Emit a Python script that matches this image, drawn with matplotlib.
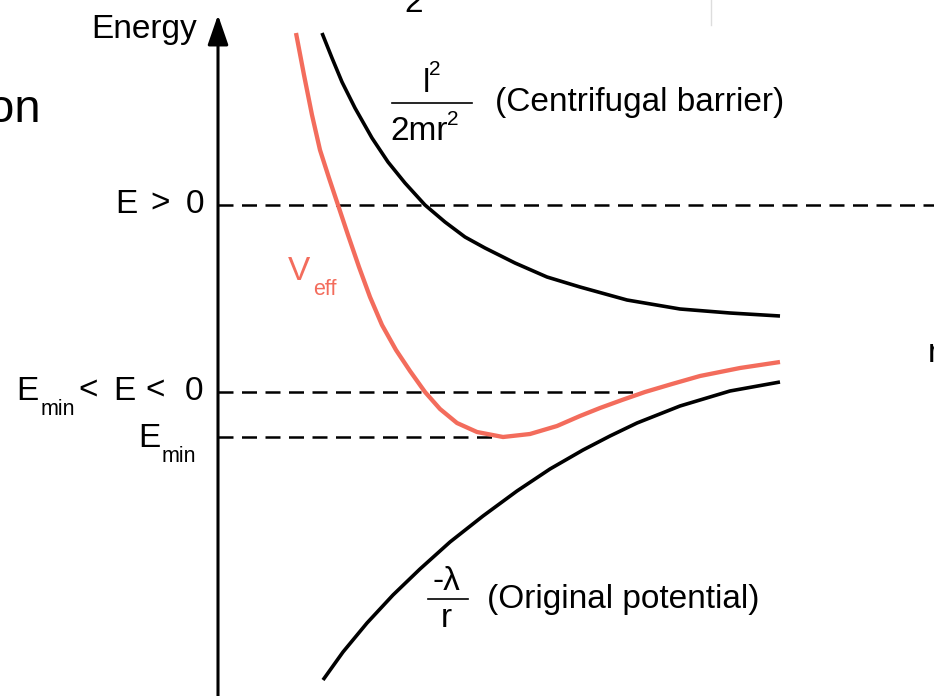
import matplotlib
matplotlib.use("Agg")
import matplotlib.pyplot as plt

plt.rcParams['font.family'] = ['Liberation Sans', 'DejaVu Sans']

# curves (r, energy); axes cross at (0, 0)
r_barrier = [1.04, 1.14, 1.24, 1.37, 1.54, 1.70, 1.87, 2.07, 2.27, 2.47, 2.67, 2.97,
             3.29, 3.62, 4.09, 4.62, 5.12, 5.62]
e_barrier = [2.92, 2.67, 2.43, 2.17, 1.87, 1.63, 1.42, 1.20, 1.03, 0.88, 0.77, 0.62,
             0.48, 0.38, 0.25, 0.16, 0.12, 0.09]

r_veff = [0.78, 0.86, 0.94, 1.02, 1.11, 1.20, 1.30, 1.41, 1.52, 1.64, 1.78, 1.92, 2.07,
          2.22, 2.39, 2.59, 2.85, 3.12, 3.39, 3.62, 3.82, 4.04, 4.27, 4.54, 4.82, 5.22, 5.62]
e_veff = [2.92, 2.50, 2.10, 1.75, 1.47, 1.20, 0.90, 0.58, 0.28, 0.00, -0.25, -0.46, -0.67,
          -0.84, -0.98, -1.07, -1.12, -1.09, -1.01, -0.91, -0.83, -0.75, -0.67, -0.59,
          -0.51, -0.43, -0.37]

r_orig = [1.05, 1.25, 1.49, 1.75, 2.02, 2.32, 2.65, 2.99, 3.32, 3.65, 3.92, 4.19,
          4.62, 5.12, 5.62]
e_orig = [-3.55, -3.27, -2.98, -2.70, -2.44, -2.17, -1.91, -1.66, -1.44, -1.25, -1.11,
          -0.98, -0.81, -0.66, -0.57]

# energy levels (dashed) and where each one stops
level_e = [1.20, -0.67, -1.12]
level_end = [7.20, 4.22, 2.75]

red = '#f36c5c'
fs = 24
fs_small = 15.5
fs_sup = 15

fig = plt.figure(figsize=(9.34, 6.96), dpi=100)
ax = fig.add_axes([0, 0, 1, 1])
ax.set_xlim(-2.18, 7.16)
ax.set_ylim(-3.71, 3.25)
ax.axis('off')

# dashed energy levels
for e, end in zip(level_e, level_end):
    ax.plot([0, end], [e, e], color='black', lw=1.8, linestyle=(0, (6, 3.4)), zorder=1)

# axes with arrows
arrow = dict(arrowstyle='-|>,head_length=1.3,head_width=0.45', mutation_scale=14,
             color='black', lw=2.2, shrinkA=0, shrinkB=0)
ax.annotate('', xy=(0, 3.10), xytext=(0, -3.75), arrowprops=arrow)
ax.annotate('', xy=(7.18, 0), xytext=(0, 0), arrowprops=arrow)

# curves
ax.plot(r_barrier, e_barrier, color='black', lw=2.6, solid_capstyle='butt',
        solid_joinstyle='round', zorder=3)
ax.plot(r_orig, e_orig, color='black', lw=2.6, solid_capstyle='butt',
        solid_joinstyle='round', zorder=3)
ax.plot(r_veff, e_veff, color=red, lw=3.1, solid_capstyle='butt',
        solid_joinstyle='round', zorder=4)

# labels on the left
ax.text(-0.21, 2.87, 'Energy', fontsize=fs, ha='right', va='baseline')

ax.text(-1.03, 1.12, 'E', fontsize=fs, ha='left', va='baseline')
ax.text(-0.68, 1.12, '>', fontsize=fs, ha='left', va='baseline')
ax.text(-0.32, 1.12, '0', fontsize=fs, ha='left', va='baseline')

ax.text(-2.02, -0.75, 'E', fontsize=fs, ha='left', va='baseline')
ax.text(-1.77, -0.90, 'min', fontsize=fs_small, ha='left', va='baseline')
ax.text(-1.40, -0.75, '<', fontsize=fs, ha='left', va='baseline')
ax.text(-1.05, -0.75, 'E', fontsize=fs, ha='left', va='baseline')
ax.text(-0.73, -0.75, '<', fontsize=fs, ha='left', va='baseline')
ax.text(-0.33, -0.75, '0', fontsize=fs, ha='left', va='baseline')

ax.text(-0.80, -1.22, 'E', fontsize=fs, ha='left', va='baseline')
ax.text(-0.56, -1.37, 'min', fontsize=fs_small, ha='left', va='baseline')

# curve labels
ax.text(0.70, 0.45, 'V', fontsize=fs, color=red, ha='left', va='baseline')
ax.text(0.95, 0.30, 'eff', fontsize=fs_small, color=red, ha='left', va='baseline')

ax.text(2.05, 2.33, 'l', fontsize=fs, ha='left', va='baseline')
ax.text(2.11, 2.50, '2', fontsize=fs_sup, ha='left', va='baseline')
ax.plot([1.74, 2.54], [2.22, 2.22], color='black', lw=1.2)
ax.text(1.72, 1.85, '2mr', fontsize=fs, ha='left', va='baseline')
ax.text(2.29, 2.00, '2', fontsize=fs_sup, ha='left', va='baseline')
ax.text(2.77, 2.14, '(Centrifugal barrier)', fontsize=fs, ha='left', va='baseline')

ax.text(2.28, -2.65, '-λ', fontsize=fs, ha='center', va='baseline')
ax.plot([2.10, 2.50], [-2.74, -2.74], color='black', lw=1.2)
ax.text(2.28, -3.02, 'r', fontsize=fs, ha='center', va='baseline')
ax.text(2.69, -2.83, '(Original potential)', fontsize=fs, ha='left', va='baseline')

# bits of the slide cut off at the edges
ax.text(7.10, -0.37, 'r', fontsize=fs, ha='left', va='baseline')
ax.text(-1.77, 2.03, 'on', fontsize=34, ha='right', va='baseline')
ax.text(1.96, 3.13, '2', fontsize=fs, ha='center', va='baseline')
ax.plot([4.93, 4.93], [3.00, 3.30], color='#dddddd', lw=1)

fig.savefig('out.png', dpi=100)
